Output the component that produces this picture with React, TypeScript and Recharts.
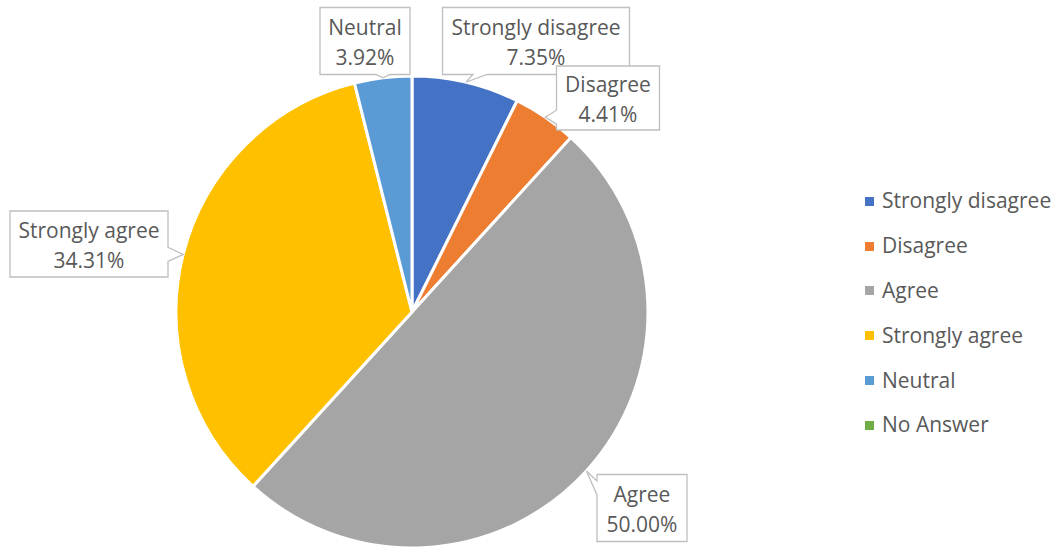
import { PieChart, Pie, Cell } from 'recharts';

const categories = ['Strongly disagree', 'Disagree', 'Agree', 'Strongly agree', 'Neutral', 'No Answer'];
const shares = [7.35, 4.41, 50.0, 34.31, 3.92, 0];
const colors = ['#4472C4', '#ED7D31', '#A5A5A5', '#FFC000', '#5B9BD5', '#70AD47'];

// callout box placement, relative to the pie centre
const calloutBoxes = [
  { dx: 124, dy: -271, w: 187, h: 67 },
  { dx: 196, dy: -214, w: 103, h: 64 },
  { dx: 230, dy: 196, w: 90, h: 67 },
  { dx: -323, dy: -68, w: 158, h: 66 },
  { dx: -47, dy: -271, w: 90, h: 67 },
  { dx: 0, dy: 0, w: 0, h: 0 },
];

const data = categories.map((name, i) => ({ name, value: shares[i] }));

const FONT = '"Open Sans", sans-serif';
const TEXT = '#595959';
const RAD = Math.PI / 180;

const clamp = (v: number, lo: number, hi: number) => Math.max(lo, Math.min(hi, v));

const calloutPath = (x0: number, y0: number, x1: number, y1: number, tx: number, ty: number) => {
  const hw = 7;
  const out = {
    left: x0 - tx,
    right: tx - x1,
    top: y0 - ty,
    bottom: ty - y1,
  };
  const side = (Object.keys(out) as (keyof typeof out)[]).reduce((a, b) => (out[b] > out[a] ? b : a));
  const w = x1 - x0;
  const h = y1 - y0;
  if (side === 'bottom') {
    const b = clamp(tx, x0 + w * 0.2, x1 - w * 0.2);
    return `M${x0},${y0} H${x1} V${y1} H${b + hw} L${tx},${ty} L${b - hw},${y1} H${x0} Z`;
  }
  if (side === 'top') {
    const b = clamp(tx, x0 + w * 0.2, x1 - w * 0.2);
    return `M${x0},${y0} H${b - hw} L${tx},${ty} L${b + hw},${y0} H${x1} V${y1} H${x0} Z`;
  }
  if (side === 'left') {
    const b = clamp(ty, y0 + h * 0.2, y1 - h * 0.2);
    return `M${x0},${y0} H${x1} V${y1} H${x0} V${b + hw} L${tx},${ty} L${x0},${b - hw} Z`;
  }
  const b = clamp(ty, y0 + h * 0.2, y1 - h * 0.2);
  return `M${x0},${y0} H${x1} V${b - hw} L${tx},${ty} L${x1},${b + hw} V${y1} H${x0} Z`;
};

const renderCallout = (props: any) => {
  const { cx, cy, midAngle, outerRadius, index, value, name } = props;
  if (!value) return null;
  const box = calloutBoxes[index];
  const tx = cx + outerRadius * Math.cos(-midAngle * RAD);
  const ty = cy + outerRadius * Math.sin(-midAngle * RAD);
  const bx = cx + box.dx;
  const by = cy + box.dy;
  const x0 = bx - box.w / 2;
  const y0 = by - box.h / 2;
  return (
    <g key={`callout-${index}`}>
      <path
        d={calloutPath(x0, y0, x0 + box.w, y0 + box.h, tx, ty)}
        fill="#fff"
        stroke="#BFBFBF"
        strokeWidth={1.3}
      />
      <text x={bx} y={by - 14} textAnchor="middle" dominantBaseline="central" fill={TEXT} fontSize={21} fontFamily={FONT}>
        {name}
      </text>
      <text x={bx} y={by + 16} textAnchor="middle" dominantBaseline="central" fill={TEXT} fontSize={21} fontFamily={FONT}>
        {`${Number(value).toFixed(2)}%`}
      </text>
    </g>
  );
};

const App = () => {
  return (
    <div style={{ position: 'absolute', left: 0, top: 0, width: 1053, height: 548, background: '#fff' }}>
      <PieChart width={1053} height={548} margin={{ top: 0, right: 0, bottom: 0, left: 0 }}>
        <Pie
          data={data}
          dataKey="value"
          nameKey="name"
          cx={412}
          cy={312}
          outerRadius={236}
          startAngle={90}
          endAngle={-270}
          stroke="#fff"
          strokeWidth={3}
          label={renderCallout}
          labelLine={false}
          isAnimationActive={false}
        >
          {data.map((d, i) => (
            <Cell key={d.name} fill={colors[i]} />
          ))}
        </Pie>
      </PieChart>
      <div style={{ position: 'absolute', left: 865, top: 178 }}>
        {categories.map((c, i) => (
          <div key={c} style={{ display: 'flex', alignItems: 'center', height: 44.8, fontFamily: FONT, fontSize: 21, color: TEXT }}>
            <span style={{ width: 9, height: 9, background: colors[i], marginRight: 8, marginTop: 2 }} />
            <span style={{ whiteSpace: 'nowrap' }}>{c}</span>
          </div>
        ))}
      </div>
    </div>
  );
};

export default App;
